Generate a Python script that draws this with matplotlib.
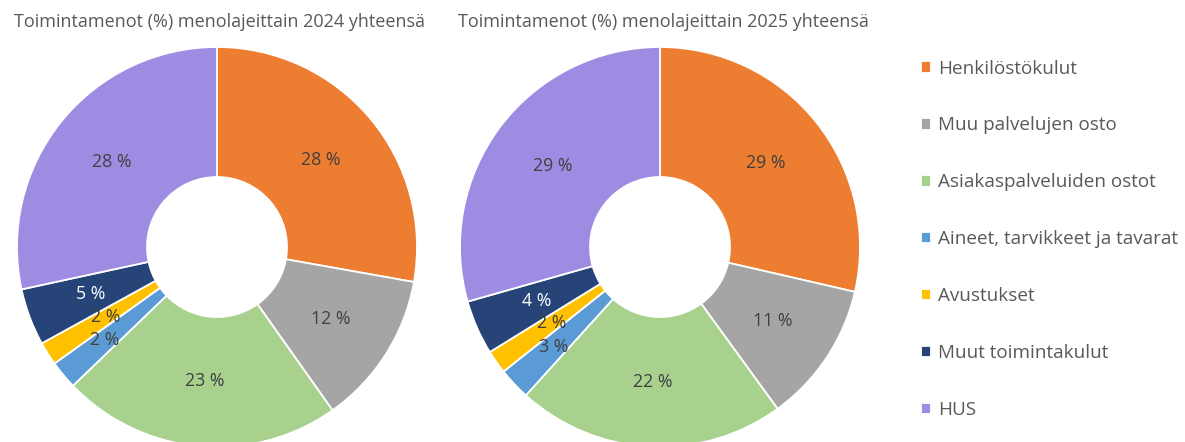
import numpy as np
import matplotlib.pyplot as plt

plt.rcParams['font.family'] = ['Open Sans', 'DejaVu Sans']

categories = ["Henkilöstökulut", "Muu palvelujen osto", "Asiakaspalveluiden ostot",
              "Aineet, tarvikkeet ja tavarat", "Avustukset", "Muut toimintakulut", "HUS"]
values_2024 = [27.8, 12.4, 22.6, 2.3, 1.9, 4.6, 28.4]
values_2025 = [28.6, 11.4, 21.7, 2.6, 1.9, 4.4, 29.4]
titles = ["Toimintamenot (%) menolajeittain 2024 yhteensä",
          "Toimintamenot (%) menolajeittain 2025 yhteensä"]

colors = ["#ED7D31", "#A5A5A5", "#A9D18E", "#5B9BD5", "#FFC000", "#264478", "#9E8CE3"]
label_colors = ["#404040"] * 5 + ["white", "#404040"]

W, H = 1185, 442
fig = plt.figure(figsize=(W / 100, H / 100), dpi=100)

centers = [217, 660]
R = 200
wedges = None
for cx, vals, title in zip(centers, [values_2024, values_2025], titles):
    ax = fig.add_axes([(cx - R) / W, (H - 247 - R) / H, 2 * R / W, 2 * R / H])
    w, _, autotexts = ax.pie(
        vals, colors=colors, startangle=90, counterclock=False, radius=1,
        wedgeprops=dict(width=0.65, edgecolor="white", linewidth=1.3),
        autopct=lambda p: f"{int(p + 0.5)} %", pctdistance=0.675,
        textprops=dict(fontsize=12.8),
    )
    for t, c in zip(autotexts, label_colors):
        t.set_color(c)
    # push the two thin slices' labels apart a little (yellow in, blue out)
    for i, r in [(3, 0.73), (4, 0.66)]:
        th = np.deg2rad((w[i].theta1 + w[i].theta2) / 2)
        autotexts[i].set_position((r * np.cos(th), r * np.sin(th)))
    ax.set_xlim(-1, 1)
    ax.set_ylim(-1, 1)
    ax.set_aspect("equal")
    ax.axis("off")
    wedges = w
    fig.text((cx + 3) / W, 1 - 22 / H, title, ha="center", va="center",
             fontsize=13, color="#595959")

fig.legend(wedges, categories, loc="upper left", bbox_to_anchor=(913 / W, 1 - 52 / H),
           frameon=False, handlelength=0.57, handleheight=0.57, handletextpad=0.36,
           labelspacing=2.06, fontsize=13.6, labelcolor="#595959", borderaxespad=0)

fig.savefig("out.png", dpi=100)
